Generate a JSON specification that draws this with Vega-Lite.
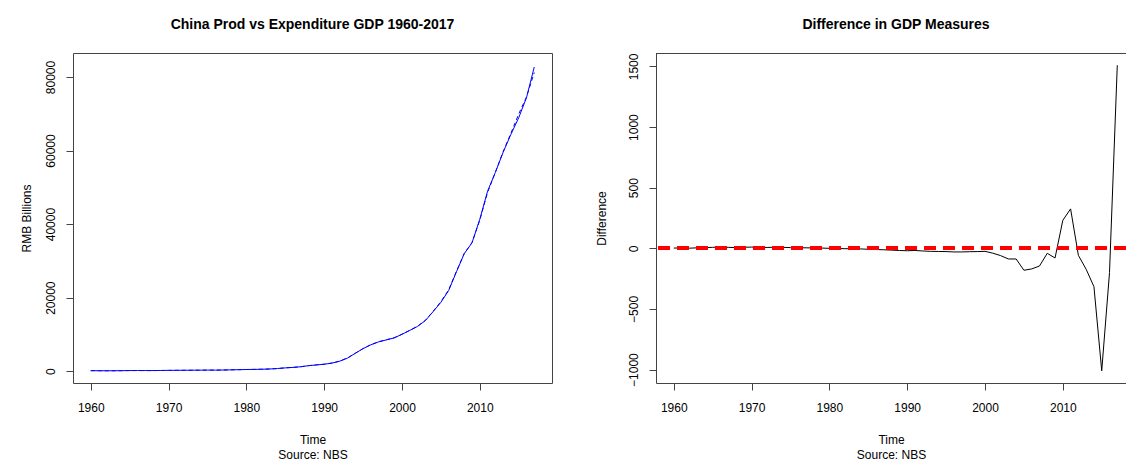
{
  "$schema": "https://vega.github.io/schema/vega-lite/v6.json",
  "background": "white",
  "padding": {"left": 19, "top": 17, "right": 0, "bottom": 0},
  "config": {
    "font": "Liberation Sans",
    "view": {"stroke": "#444", "strokeWidth": 1},
    "axis": {
      "grid": false,
      "domain": false,
      "domainColor": "#444",
      "tickColor": "#444",
      "tickSize": 7,
      "labelFont": "Liberation Sans",
      "labelFontSize": 12,
      "labelColor": "#000",
      "titleFont": "Liberation Sans",
      "titleFontSize": 12,
      "titleFontWeight": "normal",
      "titleColor": "#000"
    },
    "axisX": {"labelPadding": 12, "labelFlush": false, "titleLineHeight": 15.5, "titlePadding": 21},
    "axisY": {"labelAngle": -90, "labelAlign": "center", "labelBaseline": "alphabetic", "labelPadding": 12}
  },
  "datasets": {
    "gdp": [
      {"year": 1960, "prod": 147, "exp": 145, "diff": 2},
      {"year": 1961, "prod": 122, "exp": 119, "diff": 3},
      {"year": 1962, "prod": 115, "exp": 114, "diff": 1},
      {"year": 1963, "prod": 123, "exp": 119, "diff": 4},
      {"year": 1964, "prod": 145, "exp": 139, "diff": 6},
      {"year": 1965, "prod": 172, "exp": 164, "diff": 8},
      {"year": 1966, "prod": 187, "exp": 177, "diff": 10},
      {"year": 1967, "prod": 177, "exp": 169, "diff": 8},
      {"year": 1968, "prod": 172, "exp": 166, "diff": 6},
      {"year": 1969, "prod": 194, "exp": 185, "diff": 9},
      {"year": 1970, "prod": 226, "exp": 216, "diff": 10},
      {"year": 1971, "prod": 243, "exp": 235, "diff": 8},
      {"year": 1972, "prod": 252, "exp": 245, "diff": 7},
      {"year": 1973, "prod": 272, "exp": 263, "diff": 9},
      {"year": 1974, "prod": 279, "exp": 271, "diff": 8},
      {"year": 1975, "prod": 300, "exp": 294, "diff": 6},
      {"year": 1976, "prod": 294, "exp": 289, "diff": 5},
      {"year": 1977, "prod": 320, "exp": 316, "diff": 4},
      {"year": 1978, "prod": 368, "exp": 365, "diff": 3},
      {"year": 1979, "prod": 410, "exp": 408, "diff": 2},
      {"year": 1980, "prod": 458, "exp": 458, "diff": 0},
      {"year": 1981, "prod": 489, "exp": 491, "diff": -2},
      {"year": 1982, "prod": 532, "exp": 535, "diff": -3},
      {"year": 1983, "prod": 598, "exp": 602, "diff": -4},
      {"year": 1984, "prod": 721, "exp": 726, "diff": -5},
      {"year": 1985, "prod": 902, "exp": 910, "diff": -8},
      {"year": 1986, "prod": 1028, "exp": 1038, "diff": -10},
      {"year": 1987, "prod": 1206, "exp": 1218, "diff": -12},
      {"year": 1988, "prod": 1504, "exp": 1519, "diff": -15},
      {"year": 1989, "prod": 1699, "exp": 1717, "diff": -18},
      {"year": 1990, "prod": 1887, "exp": 1907, "diff": -20},
      {"year": 1991, "prod": 2201, "exp": 2219, "diff": -18},
      {"year": 1992, "prod": 2719, "exp": 2741, "diff": -22},
      {"year": 1993, "prod": 3567, "exp": 3592, "diff": -25},
      {"year": 1994, "prod": 4864, "exp": 4890, "diff": -26},
      {"year": 1995, "prod": 6134, "exp": 6161, "diff": -27},
      {"year": 1996, "prod": 7181, "exp": 7211, "diff": -30},
      {"year": 1997, "prod": 7972, "exp": 8002, "diff": -30},
      {"year": 1998, "prod": 8520, "exp": 8548, "diff": -28},
      {"year": 1999, "prod": 9056, "exp": 9083, "diff": -27},
      {"year": 2000, "prod": 10028, "exp": 10053, "diff": -25},
      {"year": 2001, "prod": 11086, "exp": 11126, "diff": -40},
      {"year": 2002, "prod": 12172, "exp": 12232, "diff": -60},
      {"year": 2003, "prod": 13742, "exp": 13830, "diff": -88},
      {"year": 2004, "prod": 16184, "exp": 16272, "diff": -88},
      {"year": 2005, "prod": 18732, "exp": 18913, "diff": -181},
      {"year": 2006, "prod": 21944, "exp": 22114, "diff": -170},
      {"year": 2007, "prod": 27023, "exp": 27169, "diff": -146},
      {"year": 2008, "prod": 31952, "exp": 31993, "diff": -41},
      {"year": 2009, "prod": 34908, "exp": 34988, "diff": -80},
      {"year": 2010, "prod": 41303, "exp": 41072, "diff": 231},
      {"year": 2011, "prod": 48930, "exp": 48605, "diff": 325},
      {"year": 2012, "prod": 54037, "exp": 54095, "diff": -58},
      {"year": 2013, "prod": 59524, "exp": 59697, "diff": -173},
      {"year": 2014, "prod": 64397, "exp": 64713, "diff": -316},
      {"year": 2015, "prod": 68905, "exp": 69915, "diff": -1010},
      {"year": 2016, "prod": 74359, "exp": 74560, "diff": -201},
      {"year": 2017, "prod": 82712, "exp": 81202, "diff": 1510}
    ]
  },
  "bounds": "flush",
  "spacing": 104,
  "hconcat": [
    {
      "width": 479,
      "height": 330,
      "title": {"text": "China Prod vs Expenditure GDP 1960-2017", "font": "Liberation Sans", "fontSize": 14, "fontWeight": "bold", "color": "#000", "anchor": "middle", "baseline": "alphabetic", "offset": 10},
      "data": {"name": "gdp"},
      "encoding": {
        "x": {
          "field": "year", "type": "quantitative",
          "scale": {"domain": [1957.72, 2019.28], "nice": false, "zero": false},
          "axis": {"values": [1960, 1970, 1980, 1990, 2000, 2010], "format": "d", "title": ["Time", "Source: NBS"]}
        }
      },
      "layer": [
        {
          "mark": {"type": "line", "stroke": "#0000ff", "strokeWidth": 1},
          "encoding": {
            "y": {
              "field": "prod", "type": "quantitative",
              "scale": {"domain": [-3210, 86520], "nice": false, "zero": false},
              "axis": {"values": [0, 20000, 40000, 60000, 80000], "format": "d", "title": "RMB Billions", "titlePadding": 11}
            }
          }
        },
        {
          "mark": {"type": "line", "stroke": "#0000ff", "strokeWidth": 1, "strokeDash": [4, 3]},
          "encoding": {"y": {"field": "exp", "type": "quantitative"}}
        }
      ]
    },
    {
      "width": 470,
      "height": 330,
      "view": {"stroke": null},
      "title": {"text": "Difference in GDP Measures", "font": "Liberation Sans", "fontSize": 14, "fontWeight": "bold", "color": "#000", "anchor": "middle", "baseline": "alphabetic", "offset": 10, "dx": 5},
      "data": {"name": "gdp"},
      "layer": [
        {
          "mark": {"type": "line", "stroke": "#000", "strokeWidth": 1},
          "encoding": {
            "x": {
              "field": "year", "type": "quantitative",
              "scale": {"domain": [1957.72, 2018.12], "nice": false, "zero": false},
              "axis": {"domain": true, "values": [1960, 1970, 1980, 1990, 2000, 2010], "format": "d", "title": ["Time", "Source: NBS"]}
            },
            "y": {
              "field": "diff", "type": "quantitative",
              "scale": {"domain": [-1110.8, 1610.8], "nice": false, "zero": false},
              "axis": {"domain": true, "values": [-1000, -500, 0, 500, 1000, 1500], "format": "d", "title": "Difference", "titlePadding": 19}
            }
          }
        },
        {
          "mark": {"type": "rule", "stroke": "#ff0000", "strokeWidth": 3, "strokeDash": [12, 7]},
          "encoding": {"y": {"datum": 0}}
        },
        {
          "mark": {"type": "rule", "stroke": "#444", "strokeWidth": 1, "yOffset": 0.5},
          "encoding": {"y": {"datum": 1610.8}}
        }
      ]
    }
  ]
}
